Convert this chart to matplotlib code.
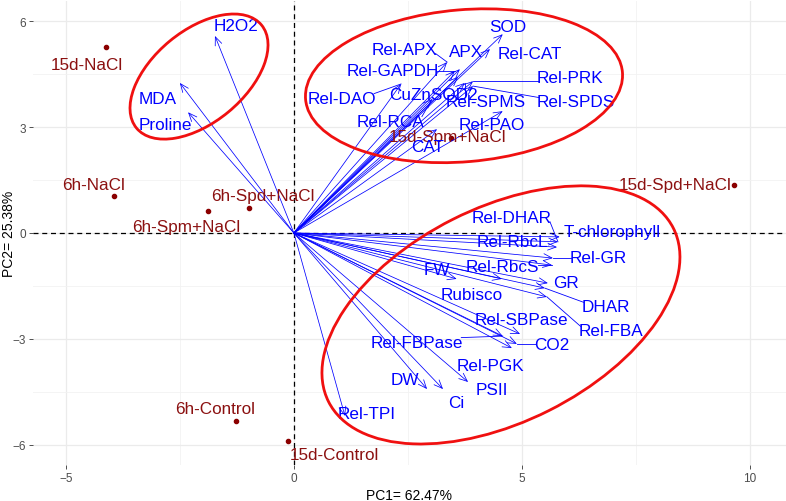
import matplotlib
matplotlib.use("Agg")
import matplotlib.pyplot as plt
import numpy as np
from matplotlib.patches import Ellipse, FancyArrowPatch
from matplotlib.transforms import ScaledTranslation

plt.rcParams['font.family'] = ['Liberation Sans', 'DejaVu Sans']

# ---------------- data ----------------
samples = ["15d-NaCl", "6h-NaCl", "6h-Spm+NaCl", "6h-Spd+NaCl",
           "15d-Spd+NaCl", "15d-Spm+NaCl", "6h-Control", "15d-Control"]
sample_pc1 = [-4.12, -3.95, -1.89, -0.99, 9.65, 3.45, -1.27, -0.13]
sample_pc2 = [5.26, 1.05, 0.62, 0.71, 1.36, 2.70, -5.32, -5.89]

variables = ["H2O2", "MDA", "Proline",
             "SOD", "Rel-APX", "APX", "Rel-CAT", "Rel-GAPDH", "Rel-PRK",
             "Rel-DAO", "CuZnSOD2", "Rel-SPMS", "Rel-SPDS", "Rel-RCA",
             "Rel-PAO", "CAT",
             "Rel-DHAR", "T-chlorophyll", "Rel-RbcL", "Rel-GR", "FW",
             "Rel-RbcS", "GR", "Rubisco", "DHAR", "Rel-FBA", "Rel-SBPase",
             "Rel-FBPase", "CO2", "Rel-PGK", "DW", "PSII", "Ci", "Rel-TPI"]
var_pc1 = [-1.73, -2.50, -2.32,
           4.58, 3.36, 3.64, 4.30, 3.53, 3.93,
           2.35, 3.60, 3.75, 3.93, 3.03,
           4.58, 3.14,
           5.79, 5.83, 5.77, 5.68, 3.57,
           5.66, 5.57, 4.56, 5.50, 5.55, 4.96,
           4.58, 4.89, 4.78, 2.92, 3.82, 3.27, 1.12]
var_pc2 = [5.58, 4.25, 3.42,
           5.63, 4.84, 4.64, 5.21, 4.59, 4.30,
           4.22, 4.42, 4.25, 4.16, 3.79,
           3.45, 2.94,
           -0.25, -0.11, -0.40, -0.71, -1.30,
           -0.91, -1.42, -1.30, -1.56, -1.81, -2.86,
           -2.92, -3.14, -3.26, -4.42, -4.22, -4.42, -5.18]

# repelled label positions (layout)
sample_lab_x = [-4.54, -4.39, -2.35, -0.68, 8.36, 3.36, -1.73, 0.90]
sample_lab_y = [4.76, 1.36, 0.17, 1.05, 1.36, 2.72, -4.98, -6.26]
var_lab_x = [-1.27, -2.98, -2.81,
             4.69, 2.43, 3.77, 5.18, 2.17, 6.05,
             1.05, 3.05, 4.21, 6.18, 2.11,
             4.34, 2.94,
             4.78, 6.97, 4.80, 6.67, 3.14,
             4.58, 5.96, 3.90, 6.84, 6.95, 5.00,
             2.70, 5.66, 4.30, 2.43, 4.34, 3.57, 1.60]
var_lab_y = [5.89, 3.82, 3.06,
             5.86, 5.21, 5.15, 5.07, 4.59, 4.39,
             3.82, 3.91, 3.71, 3.71, 3.17,
             3.06, 2.46,
             0.45, 0.03, -0.25, -0.68, -1.02,
             -0.96, -1.39, -1.75, -2.09, -2.77, -2.46,
             -3.09, -3.17, -3.74, -4.16, -4.44, -4.81, -5.12]

# hand-drawn group ellipses: centre (data), semi-axes (px), angle (deg)
ell_cx = [-2.08, 3.73, 4.54]
ell_cy = [4.43, 4.17, -2.32]
ell_a = [81, 159, 193]
ell_b = [46, 76, 107]
ell_ang = [39.5, 4.9, 26.7]

xlabel = "PC1= 62.47%"
ylabel = "PC2= 25.38%"

# ---------------- figure ----------------
DPI = 100
fig = plt.figure(figsize=(7.86, 5.02), dpi=DPI)
W, H = 786, 502
ax = fig.add_axes([33 / W, 1 - 466 / H, (786 - 33) / W, (466 - 2) / H])
ax.set_xlim(-5.72, 10.79)
ax.set_ylim(-6.57, 6.57)

for s in ax.spines.values():
    s.set_visible(False)
ax.set_xticks([-5, 0, 5, 10])
ax.set_yticks([-6, -3, 0, 3, 6])
ax.set_xticks([-2.5, 2.5, 7.5], minor=True)
ax.set_yticks([-4.5, -1.5, 1.5, 4.5], minor=True)
ax.grid(True, which='major', color='#EBEBEB', lw=0.9)
ax.grid(True, which='minor', color='#F2F2F2', lw=0.6)
ax.set_axisbelow(True)
ax.tick_params(which='major', length=3, width=0.6, color='#333333',
               labelcolor='#4D4D4D', labelsize=8.5, pad=2)
ax.tick_params(which='minor', length=0)
ax.set_xlabel(xlabel, fontsize=10, labelpad=3)
ax.set_ylabel(ylabel, fontsize=10, va='center')
ax.yaxis.set_label_coords((9 - 33) / (786 - 33), 0.5)

ax.axhline(0, ls=(0, (4, 3)), color='black', lw=0.9, zorder=1)
ax.axvline(0, ls=(0, (4, 3)), color='black', lw=0.9, zorder=1)

# sample points (below arrows)
ax.scatter(sample_pc1, sample_pc2, s=9, color='#8B0000', zorder=2)

# variable arrows
for x, y in zip(var_pc1, var_pc2):
    arr = FancyArrowPatch((0, 0), (x, y), arrowstyle='->,head_length=0.6,head_width=0.25',
                          mutation_scale=10, color='blue', lw=0.55,
                          shrinkA=0, shrinkB=0, zorder=3)
    ax.add_patch(arr)

FS = 12.3
texts = []
anchors = []
for name, lx, ly, px, py in zip(samples, sample_lab_x, sample_lab_y, sample_pc1, sample_pc2):
    t = ax.text(lx, ly, name, color='#8B1010', fontsize=FS, ha='center', va='center', zorder=5)
    texts.append((t, '#8B1010'))
    anchors.append((px, py))
for name, lx, ly, px, py in zip(variables, var_lab_x, var_lab_y, var_pc1, var_pc2):
    t = ax.text(lx, ly, name, color='blue', fontsize=FS, ha='center', va='center', zorder=5)
    texts.append((t, 'blue'))
    anchors.append((px, py))

# ggrepel-like connector segments
fig.canvas.draw()
r = fig.canvas.get_renderer()
inv = ax.transData.inverted()
for (t, c), (px, py) in zip(texts, anchors):
    bb = t.get_window_extent(r)
    P = ax.transData.transform((px, py))
    qx = min(max(P[0], bb.x0 + 2), bb.x1 - 2)
    qy = min(max(P[1], bb.y0 + 3), bb.y1 - 3)
    d = np.hypot(P[0] - qx, P[1] - qy)
    if d > 14:
        Q = inv.transform((qx, qy))
        ax.plot([px, Q[0]], [py, Q[1]], color=c, lw=0.6, zorder=3)

# red ellipses
for cx, cy, a, b, ang in zip(ell_cx, ell_cy, ell_a, ell_b, ell_ang):
    e = Ellipse((0, 0), 2 * a / DPI, 2 * b / DPI, angle=ang, fill=False,
                edgecolor='#F01010', lw=2.0,
                transform=fig.dpi_scale_trans + ScaledTranslation(cx, cy, ax.transData),
                zorder=6)
    ax.add_patch(e)

fig.savefig("out.png", dpi=DPI)
